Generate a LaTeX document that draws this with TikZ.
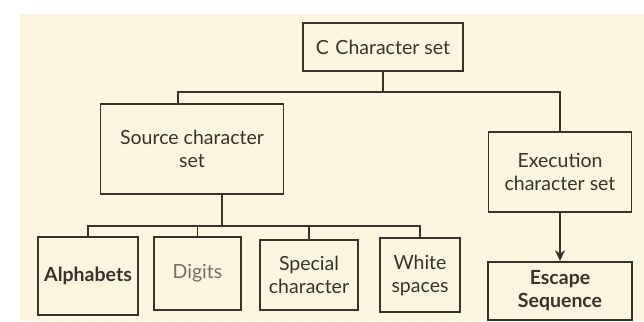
\documentclass[tikz,border=0pt]{standalone}
\usepackage{fontspec}
\setmainfont{Lato}
\usetikzlibrary{arrows.meta}
\definecolor{paper}{HTML}{FBF5DF}
\definecolor{ink}{HTML}{3A3129}
\tikzset{
  box/.style={draw=ink, line width=1.8pt, fill=paper, text=ink, align=center, inner sep=2pt, font=\fontsize{19.5}{23}\selectfont},
  link/.style={draw=ink, line width=1.3pt},
}
\begin{document}
\begin{tikzpicture}[x=1pt,y=-1pt]
\fill[white] (0,0) rectangle (644,321);
\fill[paper] (20,14) rectangle (644,321);
\useasboundingbox (0,0) rectangle (644,321);
\node[box, minimum width=160pt, minimum height=48pt] (root) at (383,47) {C\,\,Character set};
\node[box, minimum width=183pt, minimum height=90pt] (src) at (192,149) {Source character\\set};
\node[box, minimum width=143pt, minimum height=80pt] (exe) at (560,172) {Execution\\character set};
\node[box, minimum width=100pt, minimum height=78pt] (alpha) at (88,276) {\bfseries Alphabets};
\node[box, minimum width=87pt, minimum height=73pt, text=ink!70] (dig) at (197.5,273.5) {Digits};
\node[box, minimum width=98pt, minimum height=70pt] (spec) at (309,275) {Special\\character};
\node[box, minimum width=80pt, minimum height=74pt] (white) at (420,275) {White\\spaces};
\node[box, minimum width=144pt, minimum height=58pt] (esc) at (560,291) {\bfseries Escape\\\bfseries Sequence};
\coordinate (j1) at (383,92);
\coordinate (j2) at (222,226);
\draw[link] (root.south) -- (j1);
\draw[link] (src.north -| 178,0) |- (j1) -| (exe.north);
\draw[link] (src.south -| j2) -- (j2);
\draw[link] (alpha.north -| 88,0) |- (j2) -| (white.north);
\draw[link] (dig.north) -- (dig.north |- j2);
\draw[link] (spec.north) -- (spec.north |- j2);
\draw[link, -{Stealth[length=11pt,width=10pt]}] (exe.south) -- (esc.north);
\end{tikzpicture}
\end{document}
